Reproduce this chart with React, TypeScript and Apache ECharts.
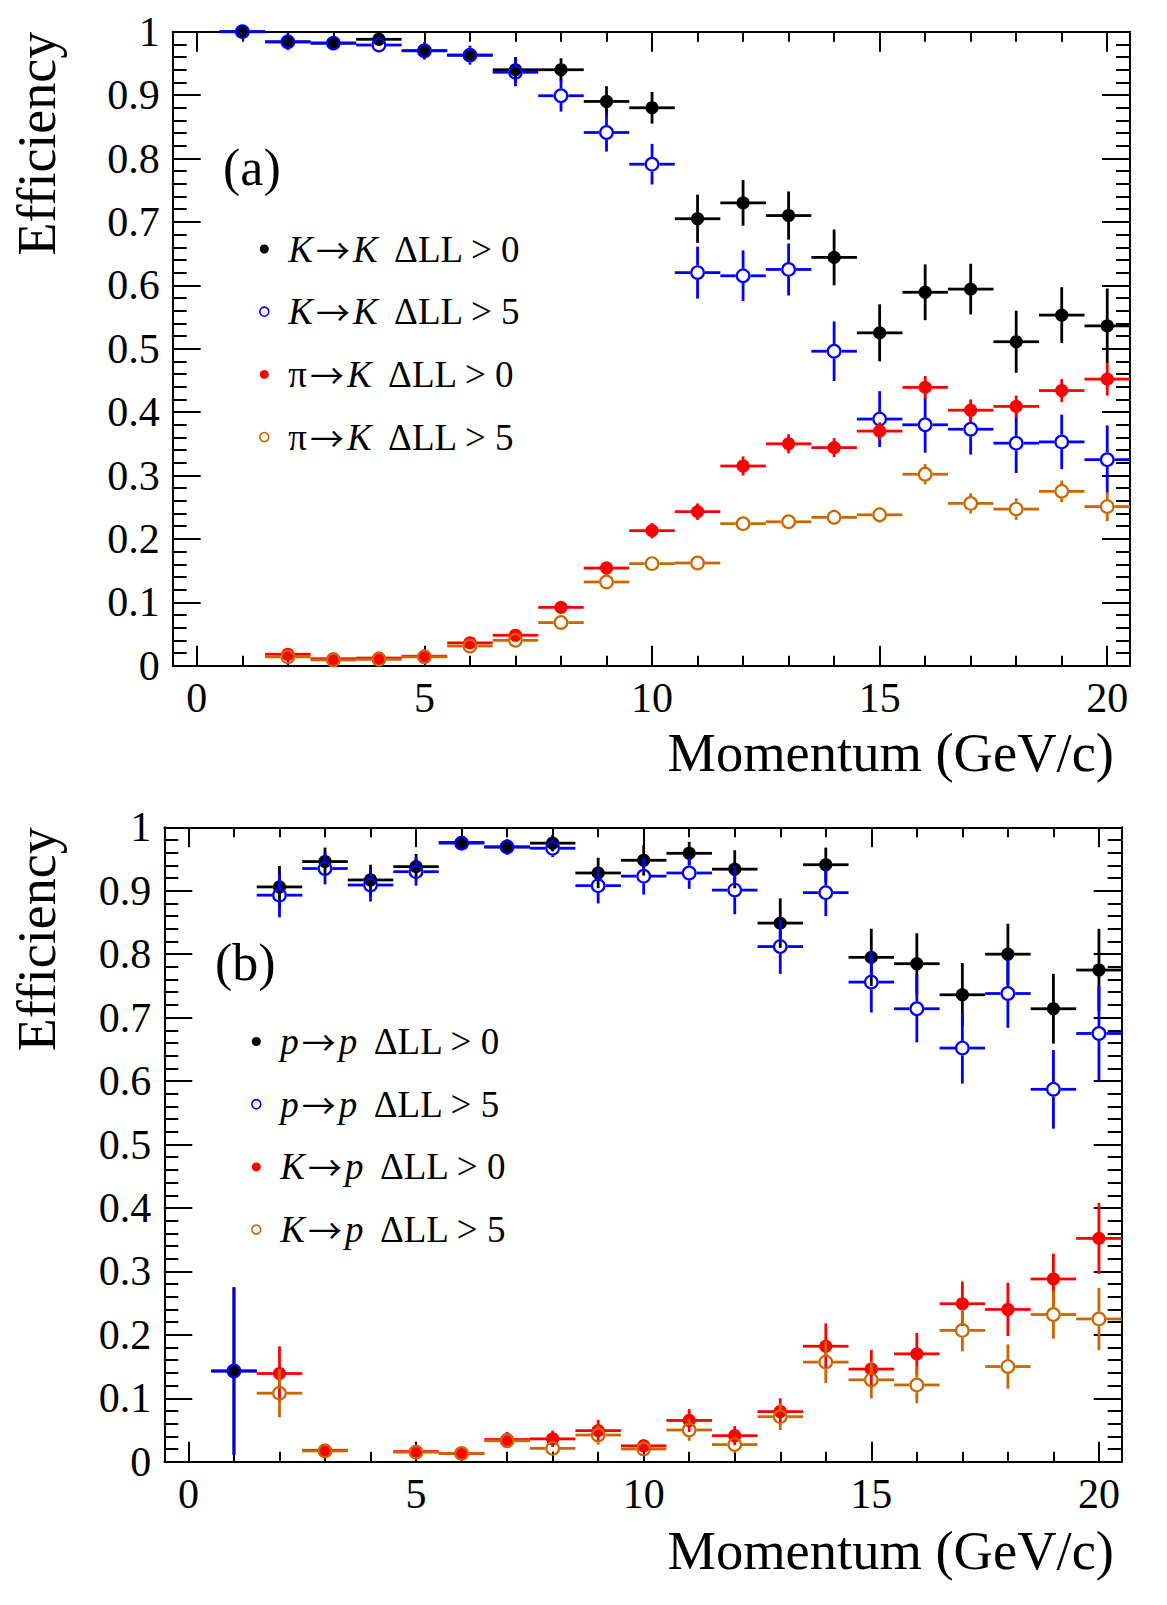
import React, { useEffect, useRef } from "react";
import * as echarts from "echarts";

// ---------- data ----------
const momentum = [1, 2, 3, 4, 5, 6, 7, 8, 9, 10, 11, 12, 13, 14, 15, 16, 17, 18, 19, 20];
const binHalfWidth = 0.5;

const xMajorTicks = [0, 5, 10, 15, 20];
const xMinorTicks = [1, 2, 3, 4, 6, 7, 8, 9, 11, 12, 13, 14, 16, 17, 18, 19];

// Panel (a)
const kToK0 = [1.0, 0.984, 0.982, 0.988, 0.97, 0.963, 0.94, 0.94, 0.89, 0.88, 0.705, 0.73, 0.71, 0.644, 0.525, 0.589, 0.594, 0.511, 0.553, 0.536];
const kToK0Err = [0, 0.01, 0.008, 0.008, 0.01, 0.01, 0.02, 0.018, 0.024, 0.025, 0.038, 0.036, 0.038, 0.044, 0.045, 0.044, 0.04, 0.049, 0.044, 0.059];
const kToK5 = [1.0, 0.984, 0.982, 0.979, 0.97, 0.963, 0.936, 0.899, 0.841, 0.791, 0.62, 0.615, 0.625, 0.496, 0.389, 0.38, 0.373, 0.351, 0.353, 0.325];
const kToK5Err = [0, 0.013, 0.01, 0.01, 0.014, 0.015, 0.022, 0.025, 0.03, 0.032, 0.041, 0.04, 0.041, 0.047, 0.044, 0.044, 0.04, 0.047, 0.043, 0.054];
const piToK0 = [null, 0.018, 0.011, 0.012, 0.015, 0.036, 0.048, 0.092, 0.154, 0.213, 0.243, 0.315, 0.35, 0.344, 0.37, 0.439, 0.403, 0.409, 0.434, 0.452];
const piToK0Err = [null, 0.004, 0.003, 0.003, 0.004, 0.006, 0.007, 0.008, 0.01, 0.012, 0.013, 0.015, 0.015, 0.015, 0.014, 0.018, 0.017, 0.017, 0.018, 0.026];
const piToK5 = [null, 0.014, 0.009, 0.01, 0.014, 0.031, 0.04, 0.068, 0.132, 0.161, 0.162, 0.224, 0.227, 0.234, 0.238, 0.302, 0.256, 0.247, 0.275, 0.251];
const piToK5Err = [null, 0.003, 0.002, 0.003, 0.003, 0.005, 0.006, 0.007, 0.008, 0.009, 0.009, 0.01, 0.011, 0.012, 0.012, 0.016, 0.016, 0.017, 0.017, 0.023];

// Panel (b)
const pToP0 = [0.143, 0.906, 0.946, 0.917, 0.938, 0.976, 0.969, 0.975, 0.928, 0.948, 0.959, 0.934, 0.849, 0.941, 0.795, 0.785, 0.736, 0.8, 0.714, 0.775];
const pToP0Err = [0.132, 0.033, 0.022, 0.024, 0.02, 0.01, 0.012, 0.013, 0.024, 0.024, 0.018, 0.03, 0.039, 0.027, 0.045, 0.048, 0.05, 0.048, 0.055, 0.065];
const pToP5 = [0.143, 0.893, 0.935, 0.909, 0.93, 0.975, 0.969, 0.967, 0.908, 0.923, 0.928, 0.901, 0.812, 0.897, 0.756, 0.714, 0.652, 0.738, 0.587, 0.675];
const pToP5Err = [0.132, 0.035, 0.025, 0.026, 0.022, 0.011, 0.012, 0.014, 0.028, 0.029, 0.025, 0.038, 0.043, 0.037, 0.048, 0.053, 0.056, 0.054, 0.062, 0.075];
const kToP0 = [null, 0.139, 0.018, null, 0.016, 0.013, 0.035, 0.036, 0.049, 0.025, 0.065, 0.041, 0.079, 0.182, 0.146, 0.17, 0.249, 0.24, 0.288, 0.352];
const kToP0Err = [null, 0.043, 0.005, null, 0.005, 0.004, 0.012, 0.013, 0.017, 0.01, 0.018, 0.015, 0.021, 0.036, 0.03, 0.033, 0.035, 0.042, 0.04, 0.056];
const kToP5 = [null, 0.108, 0.017, null, 0.015, 0.013, 0.033, 0.021, 0.042, 0.02, 0.05, 0.027, 0.071, 0.157, 0.129, 0.121, 0.207, 0.15, 0.232, 0.225];
const kToP5Err = [null, 0.038, 0.005, null, 0.004, 0.004, 0.011, 0.011, 0.015, 0.009, 0.017, 0.013, 0.021, 0.033, 0.029, 0.029, 0.033, 0.035, 0.038, 0.049];

const BLACK = "#000000";
const BLUE = "#0000ff";
const RED = "#ff0000";
const ORANGE = "#cc6600";
const FONT = "Liberation Serif";

type SeriesDef = { name: string; rich: string; ys: (number | null)[]; errs: (number | null)[]; color: string; hollow: boolean; panel: number };

const seriesDefs: SeriesDef[] = [
  { name: "K→K ΔLL > 0", rich: "{i|K}{a|→}{i|K}  ΔLL > 0", ys: kToK0, errs: kToK0Err, color: BLACK, hollow: false, panel: 0 },
  { name: "K→K ΔLL > 5", rich: "{i|K}{a|→}{i|K}  ΔLL > 5", ys: kToK5, errs: kToK5Err, color: BLUE, hollow: true, panel: 0 },
  { name: "π→K ΔLL > 0", rich: "π{a|→}{i|K}  ΔLL > 0", ys: piToK0, errs: piToK0Err, color: RED, hollow: false, panel: 0 },
  { name: "π→K ΔLL > 5", rich: "π{a|→}{i|K}  ΔLL > 5", ys: piToK5, errs: piToK5Err, color: ORANGE, hollow: true, panel: 0 },
  { name: "p→p ΔLL > 0", rich: "{i|p}{a|→}{i|p}  ΔLL > 0", ys: pToP0, errs: pToP0Err, color: BLACK, hollow: false, panel: 1 },
  { name: "p→p ΔLL > 5", rich: "{i|p}{a|→}{i|p}  ΔLL > 5", ys: pToP5, errs: pToP5Err, color: BLUE, hollow: true, panel: 1 },
  { name: "K→p ΔLL > 0", rich: "{i|K}{a|→}{i|p}  ΔLL > 0", ys: kToP0, errs: kToP0Err, color: RED, hollow: false, panel: 1 },
  { name: "K→p ΔLL > 5", rich: "{i|K}{a|→}{i|p}  ΔLL > 5", ys: kToP5, errs: kToP5Err, color: ORANGE, hollow: true, panel: 1 },
];

const grids = [
  { left: 172.7, top: 31.7, width: 957.3, height: 634 },
  { left: 164.3, top: 827.3, width: 957.4, height: 634.4 },
];

function buildOption() {
  const xAxis: any[] = [];
  const yAxis: any[] = [];
  const tickStyle = { color: "#000", width: 2 };
  grids.forEach((_, g) => {
    const base = { type: "value", gridIndex: g, min: -0.53, max: 20.5, splitLine: { show: false } };
    xAxis.push({
      ...base,
      position: "bottom",
      axisLine: { show: true, onZero: false, lineStyle: { color: "#000", width: 2 } },
      axisTick: { show: true, inside: true, length: 20, lineStyle: tickStyle, customValues: xMajorTicks },
      axisLabel: { show: true, customValues: xMajorTicks, color: "#000", fontFamily: FONT, fontSize: 42, margin: 11 },
    });
    xAxis.push({
      ...base,
      position: "bottom",
      axisLine: { show: false, onZero: false },
      axisTick: { show: true, inside: true, length: 10, lineStyle: tickStyle, customValues: xMinorTicks },
      axisLabel: { show: false },
    });
    xAxis.push({
      ...base,
      position: "top",
      axisLine: { show: true, onZero: false, lineStyle: { color: "#000", width: 2 } },
      axisTick: { show: true, inside: true, length: 20, lineStyle: tickStyle, customValues: xMajorTicks },
      axisLabel: { show: false },
    });
    xAxis.push({
      ...base,
      position: "top",
      axisLine: { show: false, onZero: false },
      axisTick: { show: true, inside: true, length: 10, lineStyle: tickStyle, customValues: xMinorTicks },
      axisLabel: { show: false },
    });
    const ybase = {
      type: "value",
      gridIndex: g,
      min: 0,
      max: 1,
      interval: 0.1,
      splitLine: { show: false },
      axisLine: { show: true, onZero: false, lineStyle: { color: "#000", width: 2 } },
      axisTick: { show: true, inside: true, length: 28, lineStyle: tickStyle },
      minorTick: { show: true, splitNumber: 5, length: 14, lineStyle: tickStyle },
    };
    yAxis.push({
      ...ybase,
      position: "left",
      axisLabel: {
        show: true,
        color: "#000",
        fontFamily: FONT,
        fontSize: 42,
        margin: 13,
        formatter: (v: number) => (v === 0 ? "0" : v === 1 ? "1" : v.toFixed(1)),
      },
    });
    yAxis.push({ ...ybase, position: "right", axisLabel: { show: false } });
  });

  const makeRender = (color: string, hollow: boolean) => (params: any, api: any) => {
    const x = api.value(0);
    const y = api.value(1);
    const e = api.value(2);
    const c = api.coord([x, y]);
    const l = api.coord([x - binHalfWidth, y]);
    const r = api.coord([x + binHalfWidth, y]);
    const t = api.coord([x, y + e]);
    const b = api.coord([x, y - e]);
    const R = hollow ? 6.3 : 6.6;
    const gap = hollow ? R + 1 : 0;
    const ls = { stroke: color, lineWidth: 2.8 };
    const children: any[] = [];
    children.push({ type: "line", shape: { x1: l[0], y1: c[1], x2: c[0] - gap, y2: c[1] }, style: ls });
    children.push({ type: "line", shape: { x1: c[0] + gap, y1: c[1], x2: r[0], y2: c[1] }, style: ls });
    if (c[1] - t[1] > gap) children.push({ type: "line", shape: { x1: c[0], y1: t[1], x2: c[0], y2: c[1] - gap }, style: ls });
    if (b[1] - c[1] > gap) children.push({ type: "line", shape: { x1: c[0], y1: c[1] + gap, x2: c[0], y2: b[1] }, style: ls });
    children.push({
      type: "circle",
      shape: { cx: c[0], cy: c[1], r: R },
      style: hollow ? { fill: "none", stroke: color, lineWidth: 2.2 } : { fill: color },
    });
    return { type: "group", children };
  };

  const series = seriesDefs.map((d) => ({
    type: "custom",
    name: d.name,
    xAxisIndex: d.panel * 4,
    yAxisIndex: d.panel * 2,
    clip: false,
    itemStyle: { color: d.color },
    encode: { x: 0, y: 1 },
    data: momentum
      .map((m, i) => (d.ys[i] == null ? null : [m, d.ys[i], d.errs[i]]))
      .filter((v) => v !== null),
    renderItem: makeRender(d.color, d.hollow),
  }));

  const richMap: Record<string, string> = {};
  seriesDefs.forEach((d) => (richMap[d.name] = d.rich));

  const legendBase = {
    orient: "vertical",
    selectedMode: false,
    itemWidth: 38,
    itemHeight: 9,
    itemGap: 22.7,
    symbolKeepAspect: true,
    formatter: (name: string) => richMap[name],
    textStyle: {
      color: "#000",
      fontFamily: FONT,
      fontSize: 37,
      lineHeight: 40,
      rich: {
        i: { fontStyle: "italic", fontFamily: FONT, fontSize: 37, lineHeight: 40, color: "#000" },
        a: { fontFamily: "Noto Sans CJK SC", fontSize: 34, lineHeight: 40, color: "#000", padding: [0, 3, 0, 3] },
      },
    },
  };
  const legendData = (panel: number) =>
    seriesDefs
      .filter((d) => d.panel === panel)
      .map((d) => ({
        name: d.name,
        icon: "circle",
        itemStyle: d.hollow
          ? { color: "#ffffff", borderColor: d.color, borderWidth: 1.6 }
          : { color: d.color, borderWidth: 0 },
      }));

  const legend = [
    { ...legendBase, left: 254, top: 224, data: legendData(0) },
    { ...legendBase, left: 246, top: 1016.5, data: legendData(1) },
  ];

  const titleStyle = { fill: "#000", fontFamily: FONT };
  const graphic = [
    { type: "text", x: 37, y: 31.7, rotation: Math.PI / 2, style: { ...titleStyle, text: "Efficiency", fontSize: 54, align: "right", verticalAlign: "middle" } },
    { type: "text", x: 37, y: 827.3, rotation: Math.PI / 2, style: { ...titleStyle, text: "Efficiency", fontSize: 54, align: "right", verticalAlign: "middle" } },
    { type: "text", x: 1114, y: 752, style: { ...titleStyle, text: "Momentum (GeV/c)", fontSize: 54.5, align: "right", verticalAlign: "middle" } },
    { type: "text", x: 1114, y: 1550, style: { ...titleStyle, text: "Momentum (GeV/c)", fontSize: 54.5, align: "right", verticalAlign: "middle" } },
    { type: "text", x: 223, y: 167.5, style: { ...titleStyle, text: "(a)", fontSize: 52, align: "left", verticalAlign: "middle" } },
    { type: "text", x: 215, y: 962.5, style: { ...titleStyle, text: "(b)", fontSize: 52, align: "left", verticalAlign: "middle" } },
  ];

  return {
    animation: false,
    backgroundColor: "#ffffff",
    grid: grids.map((g) => ({ ...g, containLabel: false })),
    xAxis,
    yAxis,
    legend,
    graphic,
    series,
  };
}

export default function App() {
  const ref = useRef<HTMLDivElement>(null);
  useEffect(() => {
    if (!ref.current) return;
    const chart = echarts.init(ref.current, undefined, { renderer: "svg" });
    chart.setOption(buildOption() as any);
    return () => chart.dispose();
  }, []);
  return (
    <div
      ref={ref}
      style={{ position: "absolute", left: 0, top: 0, width: 1167, height: 1605, background: "#fff" }}
    />
  );
}
